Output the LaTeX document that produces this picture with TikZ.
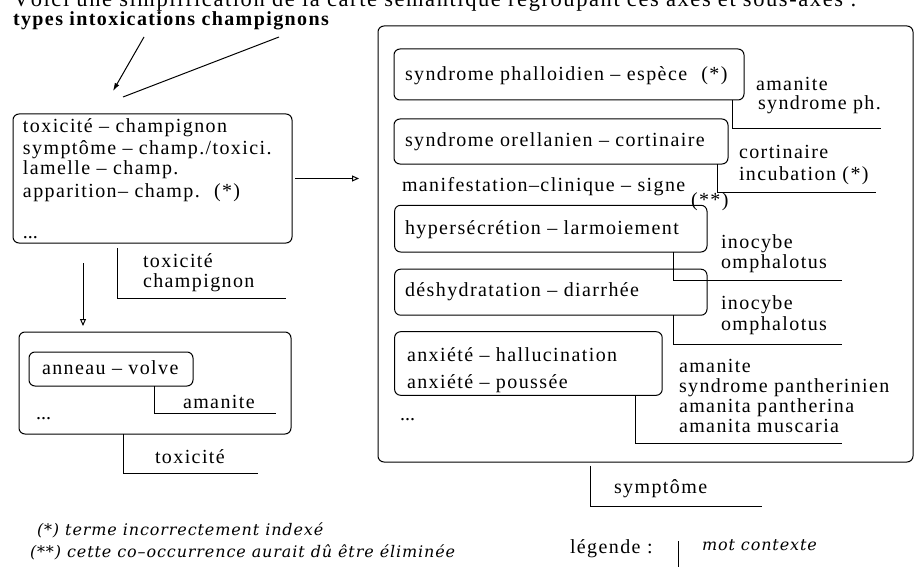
\documentclass[tikz,border=0pt]{standalone}
\usepackage{fontspec}
\setmainfont{Liberation Serif}
\newfontfamily\notefont{DejaVu Serif}
\usetikzlibrary{arrows.meta}
\def\lspamt{0.07em}
\ExplSyntaxOn
\NewDocumentCommand \lsw { m }
  { \tl_map_inline:nn { #1 } { ##1 \kern \lspamt } }
\ExplSyntaxOff
\def\lspend{\lspend}
\def\lsp#1{\lspA#1 \lspend}
\def\lspA#1 #2\lspend{\lsw{#1}\ifx\relax#2\relax\else\space\lspA#2\lspend\fi}
\tikzset{
  txt/.style={anchor=base west, inner sep=0pt, outer sep=0pt, font=\fontsize{20}{22}\selectfont},
  ttl/.style={anchor=base west, inner sep=0pt, outer sep=0pt, font=\bfseries\fontsize{20}{22}\selectfont},
  note/.style={anchor=base west, inner sep=0pt, outer sep=0pt, font=\notefont\itshape\fontsize{16}{17}\selectfont\def\lspamt{0.055em}},
  bx/.style={draw, line width=1pt, rounded corners=6pt, inner sep=0pt, outer sep=0pt, anchor=north west},
  ln/.style={line width=1pt},
  openhead/.style={ln, -{Triangle[open, length=7pt, width=6pt]}},
  fillhead/.style={ln, -{Latex[length=8pt, width=5pt]}},
}
\begin{document}
\begin{tikzpicture}[x=1pt,y=-1pt]
\useasboundingbox (0,0) rectangle (918,567);
% heading (cut by the top edge, as in the reference)
\node[txt, font=\fontsize{22.5}{24}\selectfont] (intro) at (13,6.5) {\lsp{Voici une simplification de la carte sémantique regroupant ces axes et sous-axes :}};
\node[ttl] (title) at (13,26) {\lsp{types intoxications champignons}};
\coordinate (a1s) at (144,37); \coordinate (a1e) at (113,91);
\coordinate (a2s) at (279,37); \coordinate (a2e) at (123,97);
\draw[fillhead] (a1s) -- (a1e);
\draw[ln] (a2s) -- (a2e);

% left box 1
\node[bx, minimum width=279, minimum height=129] (b1) at (13,114) {};
\node[txt] (b1l1) at (23,132) {\lsp{toxicité – champignon}};
\node[txt] (b1l2) at (23,154) {\lsp{symptôme – champ./toxici.}};
\node[txt] (b1l3) at (23,175) {\lsp{lamelle – champ.}};
\node[txt] (b1l4) at (23,197) {\lsp{apparition– champ.\ \ (*)}};
\node[txt] (b1l5) at (23,238) {...};
\coordinate (ar) at (359,178.5);
\draw[openhead] ([xshift=3pt]b1.east) -- (ar);
\coordinate (k1) at (286,298);
\draw[ln] ([shift={(104,5)}]b1.south west) |- (k1);
\node[txt] (c1a) at (143,267) {\lsp{toxicité}};
\node[txt] (c1b) at (143,287) {\lsp{champignon}};

% left box 2
\node[bx, minimum width=272, minimum height=102] (b2) at (19,332) {};
\coordinate (d1s) at (83,263);
\draw[openhead] (d1s) -- ([shift={(64,-6)}]b2.north west);
\node[bx, minimum width=164, minimum height=34] (b2a) at (29,352) {};
\node[txt] (b2at) at (42,374) {\lsp{anneau – volve}};
\coordinate (k2) at (276,413);
\draw[ln] ([xshift=125pt]b2a.south west) |- (k2);
\node[txt] (c2) at (183,408) {\lsp{amanite}};
\node[txt] (b2d) at (36,419) {...};
\coordinate (k3) at (258,473);
\draw[ln] ([xshift=104pt]b2.south west) |- (k3);
\node[txt] (c3) at (155,463) {\lsp{toxicité}};

% main box
\node[bx, minimum width=535, minimum height=436] (M) at (378,26) {};

\node[bx, minimum width=350, minimum height=51] (p1) at (394,49) {};
\node[txt] (p1t) at (405,81) {\lsp{syndrome phalloidien – espèce\ \ (*)}};
\coordinate (k4) at (881,128.5);
\draw[ln] ([xshift=-11.5pt]p1.south east) |- (k4);
\node[txt] (c4a) at (756,91) {\lsp{amanite}};
\node[txt] (c4b) at (758,110) {\lsp{syndrome ph.}};

\node[bx, minimum width=334, minimum height=45] (p2) at (394,119) {};
\node[txt] (p2t) at (405,146.5) {\lsp{syndrome orellanien – cortinaire}};
\coordinate (k5) at (876,192.8);
\draw[ln] ([xshift=-10.3pt]p2.south east) |- (k5);
\node[txt] (c5a) at (739,158) {\lsp{cortinaire}};
\node[txt] (c5b) at (739,180.5) {\lsp{incubation (*)}};
\node[txt] (mcs) at (402,191) {\lsp{manifestation–clinique – signe}};
\node[txt] (dstar) at (691,206) {\lsp{(**)}};

\node[bx, minimum width=312.4, minimum height=46.7] (p3) at (394.6,205.3) {};
\node[txt] (p3t) at (405,234) {\lsp{hypersécrétion – larmoiement}};
\coordinate (k6) at (842.4,280.8);
\draw[ln] ([xshift=-33.2pt]p3.south east) |- (k6);
\node[txt] (c6a) at (721,248.5) {\lsp{inocybe}};
\node[txt] (c6b) at (721,268.5) {\lsp{omphalotus}};

\node[bx, minimum width=312.4, minimum height=46] (p4) at (394.6,269.2) {};
\node[txt] (p4t) at (405,296.6) {\lsp{déshydratation – diarrhée}};
\coordinate (k7) at (842.4,344);
\draw[ln] ([xshift=-33.2pt]p4.south east) |- (k7);
\node[txt] (c7a) at (721,309.6) {\lsp{inocybe}};
\node[txt] (c7b) at (721,330.7) {\lsp{omphalotus}};

\node[bx, minimum width=267.6, minimum height=63.6] (p5) at (394.6,331.7) {};
\node[txt] (p5a) at (407,361) {\lsp{anxiété – hallucination}};
\node[txt] (p5b) at (407,388) {\lsp{anxiété – poussée}};
\coordinate (k8) at (842.4,443.4);
\draw[ln] ([xshift=-26.3pt]p5.south east) |- (k8);
\node[txt] (c8a) at (679,372) {\lsp{amanite}};
\node[txt] (c8b) at (679,392) {\lsp{syndrome pantherinien}};
\node[txt] (c8c) at (679,412) {\lsp{amanita pantherina}};
\node[txt] (c8d) at (679,432) {\lsp{amanita muscaria}};
\node[txt] (Md) at (400,420) {...};

\coordinate (k9) at (761.6,506);
\draw[ln] ([shift={(212.6,3.5)}]M.south west) |- (k9);
\node[txt] (c9) at (614,493.6) {\lsp{symptôme}};

% footnotes and legend
\node[note] (n1) at (37,535) {\lsp{(*) terme incorrectement indexé}};
\node[note] (n2) at (30,557) {\lsp{(**) cette co–occurrence aurait dû être éliminée}};
\node[txt] (leg) at (570,553) {\lsp{légende :}};
\coordinate (lg1) at (678,541); \coordinate (lg2) at (678,570);
\draw[ln] (lg1) -- (lg2);
\node[note] (legm) at (702,550) {\lsp{mot contexte}};
\end{tikzpicture}
\end{document}
